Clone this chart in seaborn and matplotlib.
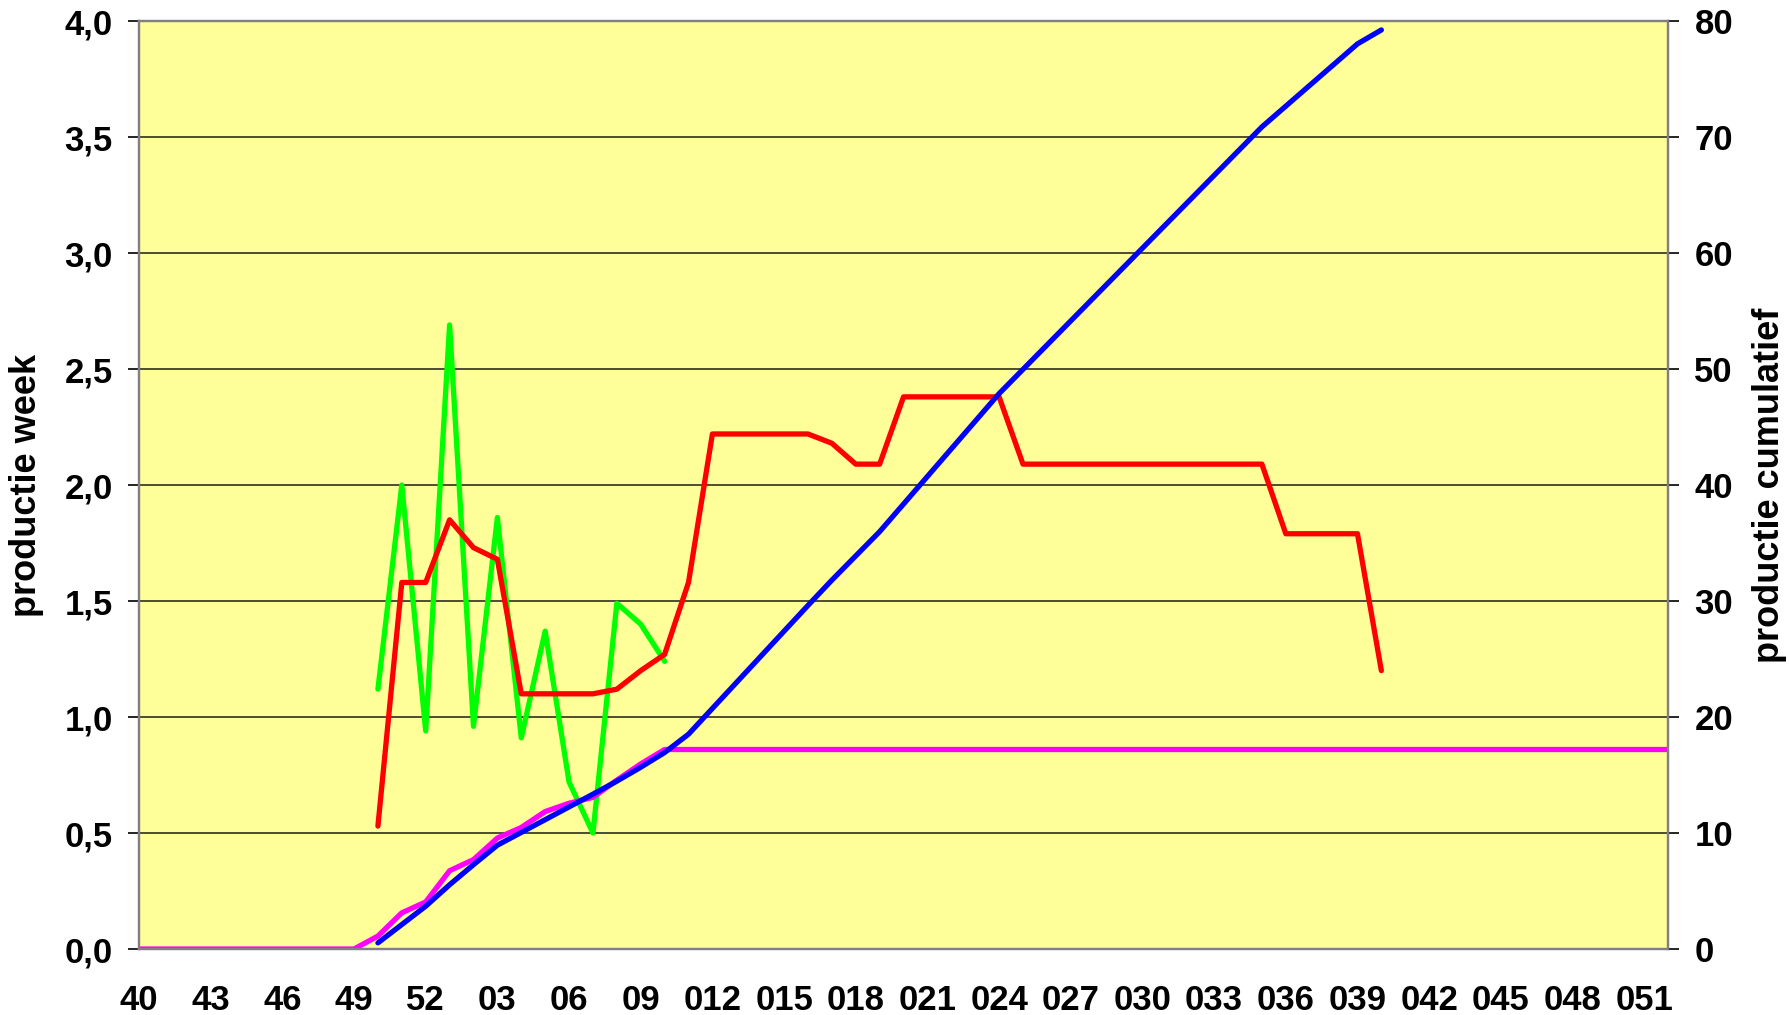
import numpy as np
import pandas as pd
import matplotlib
matplotlib.use('Agg')
import matplotlib.pyplot as plt
import seaborn as sns

# week labels on the category axis (40..52, then 01..052)
weeks = [str(w) for w in range(40, 53)] + ['0%d' % w for w in range(1, 53)]

# weekly production, first value at week 50 (index 10)
week_green = [1.12, 2.00, 0.94, 2.69, 0.96, 1.86, 0.91, 1.37, 0.72, 0.50, 1.49, 1.40, 1.24]
week_red = [0.53, 1.58, 1.58, 1.85, 1.73, 1.68, 1.10, 1.10, 1.10, 1.10, 1.12, 1.20, 1.27,
            1.58, 2.22, 2.22, 2.22, 2.22, 2.22, 2.18, 2.09, 2.09, 2.38, 2.38, 2.38, 2.38,
            2.38, 2.09, 2.09, 2.09, 2.09, 2.09, 2.09, 2.09, 2.09, 2.09, 2.09, 2.09, 1.79,
            1.79, 1.79, 1.79, 1.20]

# cumulative production (right axis)
cum_magenta = [0.0] * 10 + [1.12, 3.12, 4.06, 6.75, 7.71, 9.57, 10.48, 11.85, 12.57,
                            13.07, 14.56, 15.96, 17.20] + [17.20] * 42
cum_blue = [0.53, 2.11, 3.69, 5.54, 7.27, 8.95, 10.05, 11.15, 12.25, 13.35, 14.47, 15.67,
            16.94, 18.52, 20.74, 22.96, 25.18, 27.40, 29.62, 31.80, 33.89, 35.98, 38.36,
            40.74, 43.12, 45.50, 47.88, 49.97, 52.06, 54.15, 56.24, 58.33, 60.42, 62.51,
            64.60, 66.69, 68.78, 70.87, 72.66, 74.45, 76.24, 78.03, 79.23]

start = 10

sns.set_style("white")
plt.rcParams['font.family'] = ['Liberation Sans', 'DejaVu Sans']
plt.rcParams['font.weight'] = 'bold'
plt.rcParams['text.color'] = 'black'
plt.rcParams['axes.labelcolor'] = 'black'
plt.rcParams['xtick.color'] = 'black'
plt.rcParams['ytick.color'] = 'black'

fig, ax = plt.subplots(figsize=(17.89, 10.15), dpi=100)
fig.subplots_adjust(left=0.0777, right=0.9324, top=0.9793, bottom=0.065)
ax.set_facecolor('#FFFF99')
ax2 = ax.twinx()

lw = 3.8
sns.lineplot(x=np.arange(start, start + len(week_green)), y=week_green, ax=ax,
             color='#00FF00', linewidth=lw, legend=False)
sns.lineplot(x=np.arange(start, start + len(week_red)), y=week_red, ax=ax,
             color='#FF0000', linewidth=lw, legend=False)
sns.lineplot(x=np.arange(len(cum_magenta)), y=cum_magenta, ax=ax2,
             color='#FF00FF', linewidth=lw, legend=False)
sns.lineplot(x=np.arange(start, start + len(cum_blue)), y=cum_blue, ax=ax2,
             color='#0000FF', linewidth=lw, legend=False)

ax.set_xlim(0, 64)
ax.set_ylim(0, 4)
ax2.set_ylim(0, 80)

ax.set_xticks(range(len(weeks)))
ax.set_xticklabels([w if i % 3 == 0 else '' for i, w in enumerate(weeks)])
ax.set_yticks(np.arange(0, 4.01, 0.5))
ax.set_yticklabels([('%.1f' % v).replace('.', ',') for v in np.arange(0, 4.01, 0.5)])
ax2.set_yticks(range(0, 81, 10))

ax.yaxis.grid(True, color='#4d4d38', linewidth=1.4)
ax.set_axisbelow(True)

ax.tick_params(axis='x', length=8, width=1.2, pad=17, labelsize=25, labelcolor='black')
ax.tick_params(axis='y', length=8, width=1.2, pad=11, labelsize=25, labelcolor='black',
               left=True)
ax2.tick_params(axis='y', length=8, width=1.2, pad=11, labelsize=25, labelcolor='black',
                right=True)

for a in (ax, ax2):
    for s in a.spines.values():
        s.set_color('#808080')
        s.set_linewidth(1.6)

ax.set_xlabel('')
ax.set_ylabel('productie week', fontsize=26, fontweight='bold', color='black')
ax.yaxis.set_label_coords(-0.062, 0.5)
ax2.set_ylabel('productie cumulatief', fontsize=26, fontweight='bold', color='black')
ax2.yaxis.set_label_coords(1.055, 0.5)

plt.savefig('out.png', dpi=100)
